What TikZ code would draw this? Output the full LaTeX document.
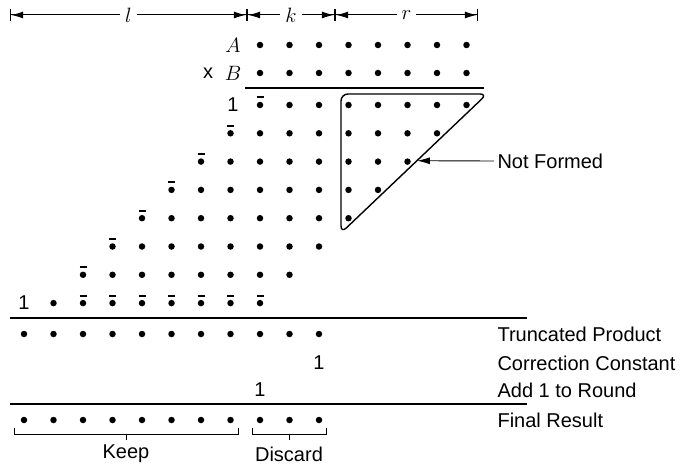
\documentclass[tikz,border=0pt]{standalone}
\usepackage{fontspec}
\setmainfont{Liberation Sans}
\usetikzlibrary{arrows.meta, calc}

\begin{document}
\begin{tikzpicture}[x=1pt, y=-1pt,
  every node/.style={font=\fontsize{20}{24}\selectfont},
  bit/.style={circle, fill, inner sep=0pt, minimum size=6.5pt},
  nbar/.style={line width=2pt},
  rule/.style={line width=1.6pt},
  brk/.style={line width=1pt},
  dim/.style={line width=1pt, {Bar[width=12pt,line width=1.2pt]Latex[length=12pt,width=7pt]}-{Latex[length=12pt,width=7pt]Bar[width=12pt,line width=1.2pt]}},
  dimlbl/.style={fill=white, inner sep=5pt, font=\fontsize{22}{26}\selectfont},
  sidelbl/.style={anchor=west},
]
\useasboundingbox (0,0) rectangle (684,468);

% field widths
\coordinate (d0) at (10,15);
\coordinate (d1) at (247,15);
\coordinate (d2) at (335,15);
\coordinate (d3) at (478,15);
\draw[dim] (d0) -- node[dimlbl] (lw) {$l$} (d1);
\draw[dim] (d1) -- node[dimlbl] (kw) {$k$} (d2);
\draw[dim] (d2) -- node[dimlbl] (rw) {$r$} (d3);

% operands
\node (A) at (233,45) {$A$};
\node (times) at (208,73) {x};
\node (B) at (233,73) {$B$};
\foreach \c in {0,...,7} {
  \node[bit] (a\c) at ({260+29.5*\c},45) {};
  \node[bit] (b\c) at ({260+29.5*\c},73) {};
}
\draw[rule] (245,88) -- (484,88);

% partial products
\foreach \i in {0,...,7} {
  \foreach \j in {0,...,7} {
    \pgfmathsetmacro\c{\j-\i}
    \node[bit] (p\i-\j) at ({260+29.5*\c},{105+28.3*\i}) {};
  }
}
\foreach \i in {0,...,6}
  \draw[nbar] ([xshift=-3.5pt,yshift=7.5pt]p\i-0.center) -- ([xshift=3.5pt,yshift=7.5pt]p\i-0.center);
\foreach \j in {1,...,7}
  \draw[nbar] ([xshift=-3.5pt,yshift=7.5pt]p7-\j.center) -- ([xshift=3.5pt,yshift=7.5pt]p7-\j.center);
\node (one0) at (233,105) {1};
\node (one7) at (24,303) {1};

% not formed region
\coordinate (tl) at (341,94);
\coordinate (tr) at (487,94);
\coordinate (bl) at (341,233);
\draw[line width=1.4pt, rounded corners=7pt] ($(tl)!0.5!(tr)$) -- (tr) -- (bl) -- (tl) -- cycle;
\coordinate (nf) at ($(tr)!0.48!(bl)$);
\node[sidelbl] (nftext) at (494,161) {Not Formed};
\draw[line width=0.9pt, -{Latex[length=13pt,width=7pt]}] (nftext.west) -- (nf);

% truncated product and rounding
\draw[rule] (10,318) -- (527,318);
\foreach \c in {-8,...,2}
  \node[bit] (t\c) at ({260+29.5*\c},334) {};
\node (cc) at ({260+29.5*2},363) {1};
\node (ar) at (260,390) {1};
\draw[rule] (10,404) -- (527,404);
\foreach \c in {-8,...,2}
  \node[bit] (f\c) at ({260+29.5*\c},420) {};

\node[sidelbl] (tplbl) at (494,334) {Truncated Product};
\node[sidelbl] (cclbl) at (494,363) {Correction Constant};
\node[sidelbl] (arlbl) at (494,390) {Add 1 to Round};
\node[sidelbl] (frlbl) at (494,420) {Final Result};

% keep / discard
\draw[brk] (14,428) -- (14,434) -- (238,434) -- (238,428);
\draw[brk] (126,434) -- (126,440);
\node (keep) at (126,454) {Keep};
\draw[brk] (252,428) -- (252,434) -- (326,434) -- (326,428);
\draw[brk] (289,434) -- (289,440);
\node (discard) at (289,454) {Discard};

\end{tikzpicture}
\end{document}
